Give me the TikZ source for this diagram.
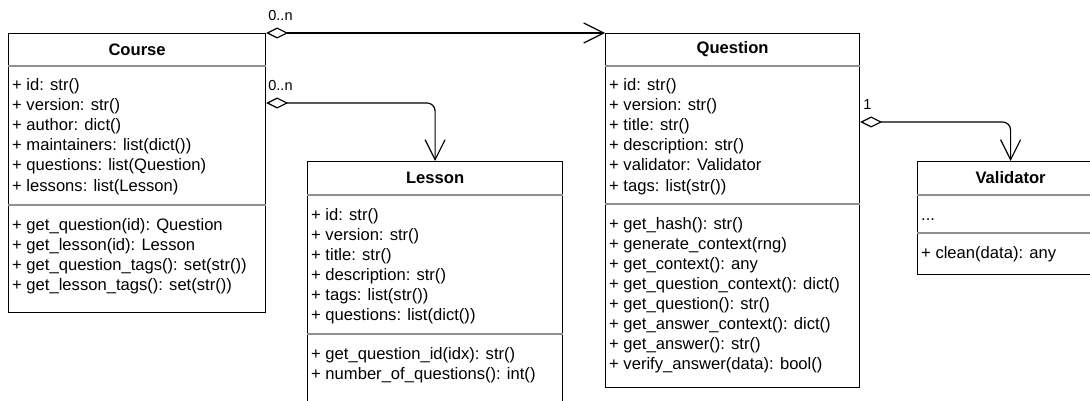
\documentclass[tikz,border=0pt]{standalone}
\usepackage{fontspec}
\setmainfont{Liberation Sans}
\usetikzlibrary{arrows.meta,calc,positioning}
\definecolor{divgray}{RGB}{144,144,144}

\tikzset{
  classbox/.style={draw=black, line width=1.2pt, anchor=north west, inner sep=0pt},
  classname/.style={font=\fontsize{16.6}{20}\selectfont\bfseries, inner sep=0pt},
  member/.style={font=\fontsize{16.6}{20}\selectfont, anchor=base west, inner sep=0pt},
  divider/.style={draw=divgray, line width=1.2pt},
  mult/.style={font=\fontsize{14.5}{17}\selectfont, anchor=base west, inner sep=0pt},
  assoc/.style={draw=black, line width=1.2pt, rounded corners=8pt,
    {Diamond[open,length=22pt,width=11pt]}-{Straight Barb[length=20pt,width=20pt]}}
}

\begin{document}
\begin{tikzpicture}[x=1pt, y=-1pt]
	\useasboundingbox (0,0) rectangle (1090,401);
	\clip (0,0) rectangle (1090,401);

	% Course
	\node[classbox, minimum width=257pt, minimum height=279pt] (course) at (8,33) {};
	\node[classname] (course-name) at ($(course.north)+(0,16.5)$) {Course};
	\draw[divider] ($(course.north west)+(0,33)$) -- ($(course.north east)+(0,33)$);
	\draw[divider] ($(course.north west)+(0,172)$) -- ($(course.north east)+(0,172)$);
	\foreach \txt [count=\i] in {+ id: str(), + version: str(), + author: dict(),
		+ maintainers: list(dict()), + questions: list(Question), + lessons: list(Lesson)}
		\node[member] (course-a\i) at ($(course.north west)+(4,38+20*\i)$) {\txt};
	\foreach \txt [count=\i] in {+ get\_question(id): Question, + get\_lesson(id): Lesson,
		+ get\_question\_tags(): set(str()), + get\_lesson\_tags(): set(str())}
		\node[member] (course-m\i) at ($(course.north west)+(4,177+20*\i)$) {\txt};

	% Lesson
	\node[classbox, minimum width=255pt, minimum height=260pt] (lesson) at (307,161) {};
	\node[classname] (lesson-name) at ($(lesson.north)+(0,17)$) {Lesson};
	\draw[divider] ($(lesson.north west)+(0,34)$) -- ($(lesson.north east)+(0,34)$);
	\draw[divider] ($(lesson.north west)+(0,173)$) -- ($(lesson.north east)+(0,173)$);
	\foreach \txt [count=\i] in {+ id: str(), + version: str(), + title: str(),
		+ description: str(), + tags: list(str()), + questions: list(dict())}
		\node[member] (lesson-a\i) at ($(lesson.north west)+(4,39+20*\i)$) {\txt};
	\foreach \txt [count=\i] in {+ get\_question\_id(idx): str(), + number\_of\_questions(): int()}
		\node[member] (lesson-m\i) at ($(lesson.north west)+(4,178+20*\i)$) {\txt};

	% Question
	\node[classbox, minimum width=254pt, minimum height=354pt] (question) at (605,33) {};
	\node[classname] (question-name) at ($(question.north)+(0,16.5)$) {Question};
	\draw[divider] ($(question.north west)+(0,33)$) -- ($(question.north east)+(0,33)$);
	\draw[divider] ($(question.north west)+(0,171)$) -- ($(question.north east)+(0,171)$);
	\foreach \txt [count=\i] in {+ id: str(), + version: str(), + title: str(),
		+ description: str(), + validator: Validator, + tags: list(str())}
		\node[member] (question-a\i) at ($(question.north west)+(4,38+20*\i)$) {\txt};
	\foreach \txt [count=\i] in {+ get\_hash(): str(), + generate\_context(rng),
		+ get\_context(): any, + get\_question\_context(): dict(), + get\_question(): str(),
		+ get\_answer\_context(): dict(), + get\_answer(): str(), + verify\_answer(data): bool()}
		\node[member] (question-m\i) at ($(question.north west)+(4,176+20*\i)$) {\txt};

	% Validator
	\node[classbox, minimum width=186pt, minimum height=113pt] (validator) at (917,161) {};
	\node[classname] (validator-name) at ($(validator.north)+(0,17)$) {Validator};
	\draw[divider] ($(validator.north west)+(0,34)$) -- ($(validator.north east)+(0,34)$);
	\draw[divider] ($(validator.north west)+(0,72)$) -- ($(validator.north east)+(0,72)$);
	\node[member] (validator-a1) at ($(validator.north west)+(4,59)$) {...};
	\node[member] (validator-m1) at ($(validator.north west)+(4,97)$) {+ clean(data): any};

	% associations
	\coordinate (course-lesson) at ($(course.north east)+(0,70)$);
	\coordinate (question-validator) at ($(question.north east)+(0,89)$);
	\draw[assoc] (course.north east) -- (question.north west);
	\draw[assoc] (course-lesson) -| (lesson.north);
	\draw[assoc] (question-validator) -| (validator.north);
	\node[mult] (course-question-mult) at ($(course.north east)+(2,-12)$) {0..n};
	\node[mult] (course-lesson-mult) at ($(course-lesson)+(2,-12)$) {0..n};
	\node[mult] (question-validator-mult) at ($(question-validator)+(3,-12)$) {1};
\end{tikzpicture}
\end{document}
